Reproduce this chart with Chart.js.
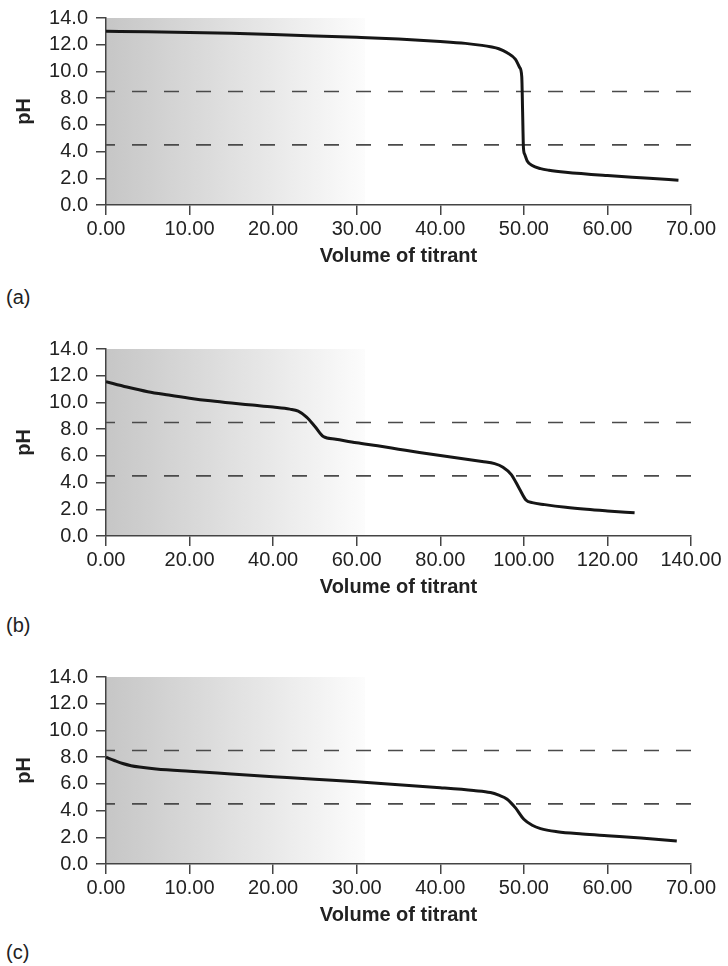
<!DOCTYPE html>
<html>
<head>
<meta charset="utf-8">
<script src="https://cdn.jsdelivr.net/npm/chart.js@4.4.1/dist/chart.umd.min.js"></script>
<style>
body { margin: 0; background: #fff; font-family: "Liberation Sans", Arial, sans-serif; }
.panel { position: absolute; left: 0; width: 728px; height: 280px; }
.tag { position: absolute; left: 6px; font-size: 20px; line-height: 24px; color: #222; }
</style>
</head>
<body>
<div class="panel" style="top:0px"><canvas id="chartA" width="728" height="280"></canvas></div>
<div class="tag" style="top:285px">(a)</div>
<div class="panel" style="top:331px"><canvas id="chartB" width="728" height="280"></canvas></div>
<div class="tag" style="top:613px">(b)</div>
<div class="panel" style="top:659px"><canvas id="chartC" width="728" height="280"></canvas></div>
<div class="tag" style="top:940px">(c)</div>
<script>
// (a) strong base titrated with strong acid
const volA = [0, 5, 10, 15, 20, 25, 30, 35, 40, 43, 45, 46, 47, 48, 49, 49.5, 49.75, 49.85, 49.95, 50.1, 50.4, 51, 52, 53, 55, 60, 65, 68.5];
const phA = [13.0, 12.97, 12.92, 12.85, 12.76, 12.66, 12.55, 12.42, 12.24, 12.1, 11.95, 11.85, 11.7, 11.4, 10.9, 10.3, 9.6, 7.0, 4.3, 3.8, 3.3, 2.95, 2.72, 2.6, 2.45, 2.2, 2.0, 1.85];

// (b) two equivalence points
const volB = [0, 5, 10, 15, 20, 25, 30, 35, 40, 44, 46, 48, 50, 52, 55, 60, 65, 70, 75, 80, 85, 90, 93, 95, 97, 99, 100.5, 102, 105, 110, 115, 120, 126.5];
const phB = [11.55, 11.15, 10.8, 10.55, 10.32, 10.12, 9.95, 9.8, 9.65, 9.5, 9.35, 8.9, 8.2, 7.45, 7.25, 6.98, 6.75, 6.5, 6.25, 6.02, 5.8, 5.57, 5.42, 5.15, 4.6, 3.5, 2.7, 2.5, 2.35, 2.15, 2.0, 1.88, 1.74];

// (c) weak base
const volC = [0, 1, 2, 3, 4, 6, 10, 15, 20, 25, 30, 35, 40, 44, 46, 47, 48, 49, 50, 51, 52, 54, 57, 60, 64, 68.3];
const phC = [8.0, 7.75, 7.52, 7.36, 7.26, 7.12, 6.94, 6.74, 6.54, 6.34, 6.15, 5.93, 5.71, 5.5, 5.35, 5.15, 4.85, 4.2, 3.35, 2.9, 2.65, 2.42, 2.25, 2.12, 1.95, 1.72];

// indicator range lines
const refLevels = [8.5, 4.5];

const xMaxA = 70, xStepA = 10, shadeA = 31;
const xMaxB = 140, xStepB = 20, shadeB = 62;
const xMaxC = 70, xStepC = 10, shadeC = 31;
const yMax = 14, yStep = 2;

const textColor = '#222';
const axisColor = '#444';

const shadePlugin = {
    id: 'shade',
    beforeDraw(chart, args, opts){
        const {ctx, scales: {x, y}} = chart;
        const x0 = x.getPixelForValue(0);
        const x1 = x.getPixelForValue(opts.until);
        const yTop = y.getPixelForValue(yMax);
        const yBot = y.getPixelForValue(0);
        const g = ctx.createLinearGradient(x0, 0, x1, 0);
        g.addColorStop(0, '#c6c6c6');
        g.addColorStop(1, '#fcfcfc');
        ctx.save();
        ctx.fillStyle = g;
        ctx.fillRect(x0, yTop, x1 - x0, yBot - yTop);
        ctx.restore();
    }
};

function makeChart(id, vols, phs, xMax, xStep, shadeUntil){
    const curve = vols.map((v, i) => ({x: v, y: phs[i]}));
    const refSets = refLevels.map(lv => ({
        data: [{x: 0, y: lv}, {x: xMax, y: lv}],
        borderColor: '#4a4a4a',
        borderWidth: 1.6,
        borderDash: [15, 17],
        borderDashOffset: 6,
        pointRadius: 0
    }));

    return new Chart(document.getElementById(id), {
        type: 'line',
        data: {
            datasets: [{
                data: curve,
                borderColor: '#161616',
                borderWidth: 3,
                pointRadius: 0,
                cubicInterpolationMode: 'monotone'
            }, ...refSets]
        },
        plugins: [shadePlugin],
        options: {
            responsive: false,
            animation: false,
            layout: { padding: { top: 13, right: 37, bottom: 12, left: 12 } },
            plugins: {
                legend: { display: false },
                tooltip: { enabled: false },
                shade: { until: shadeUntil }
            },
            scales: {
                x: {
                    type: 'linear',
                    min: 0,
                    max: xMax,
                    afterFit: s => { s.height = 63; },
                    ticks: {
                        stepSize: xStep,
                        autoSkip: false,
                        maxRotation: 0,
                        padding: 2,
                        color: textColor,
                        font: { family: '"Liberation Sans", Arial, sans-serif', size: 20 },
                        callback: v => v.toFixed(2)
                    },
                    grid: { drawOnChartArea: false, tickLength: 10, color: axisColor, lineWidth: 1.5 },
                    border: { color: axisColor, width: 1.5 },
                    title: {
                        display: true,
                        text: 'Volume of titrant',
                        color: textColor,
                        padding: 0,
                        font: { family: '"Liberation Sans", Arial, sans-serif', size: 20, weight: 'bold' }
                    }
                },
                y: {
                    min: 0,
                    max: yMax,
                    afterFit: s => { s.width = 94; },
                    ticks: {
                        stepSize: yStep,
                        autoSkip: false,
                        padding: 8,
                        color: textColor,
                        font: { family: '"Liberation Sans", Arial, sans-serif', size: 20, lineHeight: 1 },
                        callback: v => v.toFixed(1)
                    },
                    grid: { drawOnChartArea: false, tickLength: 10, color: axisColor, lineWidth: 1.5 },
                    border: { color: axisColor, width: 1.5 },
                    title: {
                        display: true,
                        text: 'pH',
                        color: textColor,
                        padding: 0,
                        font: { family: '"Liberation Sans", Arial, sans-serif', size: 20, weight: 'bold' }
                    }
                }
            }
        }
    });
}

makeChart('chartA', volA, phA, xMaxA, xStepA, shadeA);
makeChart('chartB', volB, phB, xMaxB, xStepB, shadeB);
makeChart('chartC', volC, phC, xMaxC, xStepC, shadeC);
</script>
</body>
</html>
